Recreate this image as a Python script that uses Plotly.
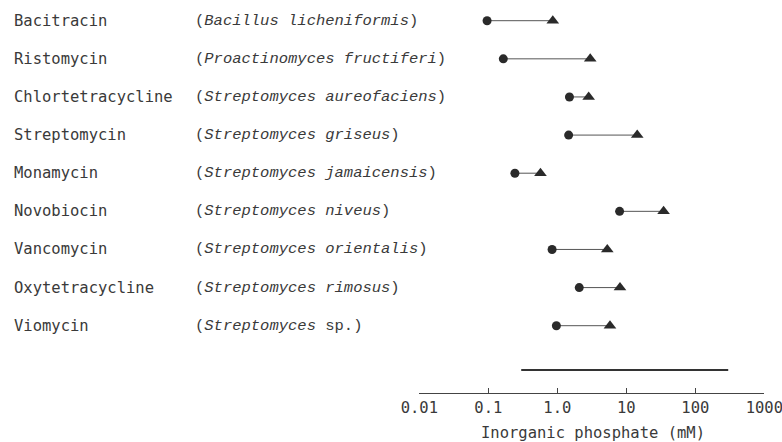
import plotly.graph_objects as go

# ---- data ----
antibiotics = ["Bacitracin", "Ristomycin", "Chlortetracycline", "Streptomycin",
               "Monamycin", "Novobiocin", "Vancomycin", "Oxytetracycline", "Viomycin"]
organisms = ["Bacillus licheniformis", "Proactinomyces fructiferi", "Streptomyces aureofaciens",
             "Streptomyces griseus", "Streptomyces jamaicensis", "Streptomyces niveus",
             "Streptomyces orientalis", "Streptomyces rimosus", "Streptomyces"]
organism_suffix = ["", "", "", "", "", "", "", "", " sp."]
low_values = [0.096, 0.165, 1.5, 1.46, 0.243, 8.0, 0.84, 2.08, 0.97]
high_values = [0.86, 3.0, 2.85, 14.4, 0.57, 34.7, 5.3, 8.1, 5.8]
range_low, range_high = 0.3, 300
tick_values = [0.01, 0.1, 1, 10, 100, 1000]
tick_labels = ["0.01", "0.1", "1.0", "10", "100", "1000"]
x_title = "Inorganic phosphate (mM)"

W, H = 782, 442
rows = list(range(len(antibiotics)))
range_row = 9.16

ink = "#2a2a2a"
txt = "#3a3a3a"
mono = "DejaVu Sans Mono"
courier = "Liberation Mono"

fig = go.Figure()

# connecting lines
lx, ly = [], []
for r, lo, hi in zip(rows, low_values, high_values):
    lx += [lo, hi, None]
    ly += [r, r, None]
fig.add_trace(go.Scatter(x=lx, y=ly, mode="lines",
                         line=dict(color="#555555", width=1), hoverinfo="skip"))
fig.add_trace(go.Scatter(x=low_values, y=rows, mode="markers",
                         marker=dict(symbol="circle", size=9, color=ink)))
fig.add_trace(go.Scatter(x=high_values, y=rows, mode="markers",
                         marker=dict(symbol="triangle-up", size=11, color=ink)))
# range bar
fig.add_trace(go.Scatter(x=[range_low, range_high], y=[range_row, range_row], mode="lines",
                         line=dict(color="#333333", width=2), hoverinfo="skip"))

annotations = []
for r, name, org, suf in zip(rows, antibiotics, organisms, organism_suffix):
    annotations.append(dict(x=11.7 / W, xref="paper", y=r, yref="y", text=name,
                            showarrow=False, xanchor="left", yanchor="middle",
                            font=dict(family=mono, size=15.5, color=txt)))
    annotations.append(dict(x=193 / W, xref="paper", y=r, yref="y",
                            text="(<i>" + org + "</i>" + suf + ")",
                            showarrow=False, xanchor="left", yanchor="middle",
                            font=dict(family=courier, size=15.5, color=txt)))
# axis title
annotations.append(dict(x=593.3 / W, xref="paper", y=(H - 433) / H, yref="paper",
                        text=x_title, showarrow=False, xanchor="center", yanchor="middle",
                        font=dict(family=mono, size=15.5, color=txt)))

fig.update_layout(
    width=W, height=H,
    margin=dict(l=0, r=0, t=0, b=0, pad=0, autoexpand=False),
    paper_bgcolor="white", plot_bgcolor="white",
    showlegend=False,
    annotations=annotations,
    xaxis=dict(type="log", range=[-2, 3], domain=[419.3 / W, 764.3 / W],
               tickvals=tick_values, ticktext=tick_labels,
               ticks="inside", ticklen=5, tickcolor="#444444", tickwidth=1,
               showline=True, linecolor="#444444", linewidth=1,
               showgrid=False, zeroline=False, automargin=False,
               ticklabeloverflow="allow",
               tickfont=dict(family=mono, size=15.5, color=txt)),
    yaxis=dict(range=[9.773, -0.543], domain=[(H - 393.3) / H, 1],
               visible=False, showgrid=False, zeroline=False),
)

fig.write_html("out.html", config={"displayModeBar": False},
               post_script="document.body.style.margin='0px';document.body.style.overflow='hidden';")
